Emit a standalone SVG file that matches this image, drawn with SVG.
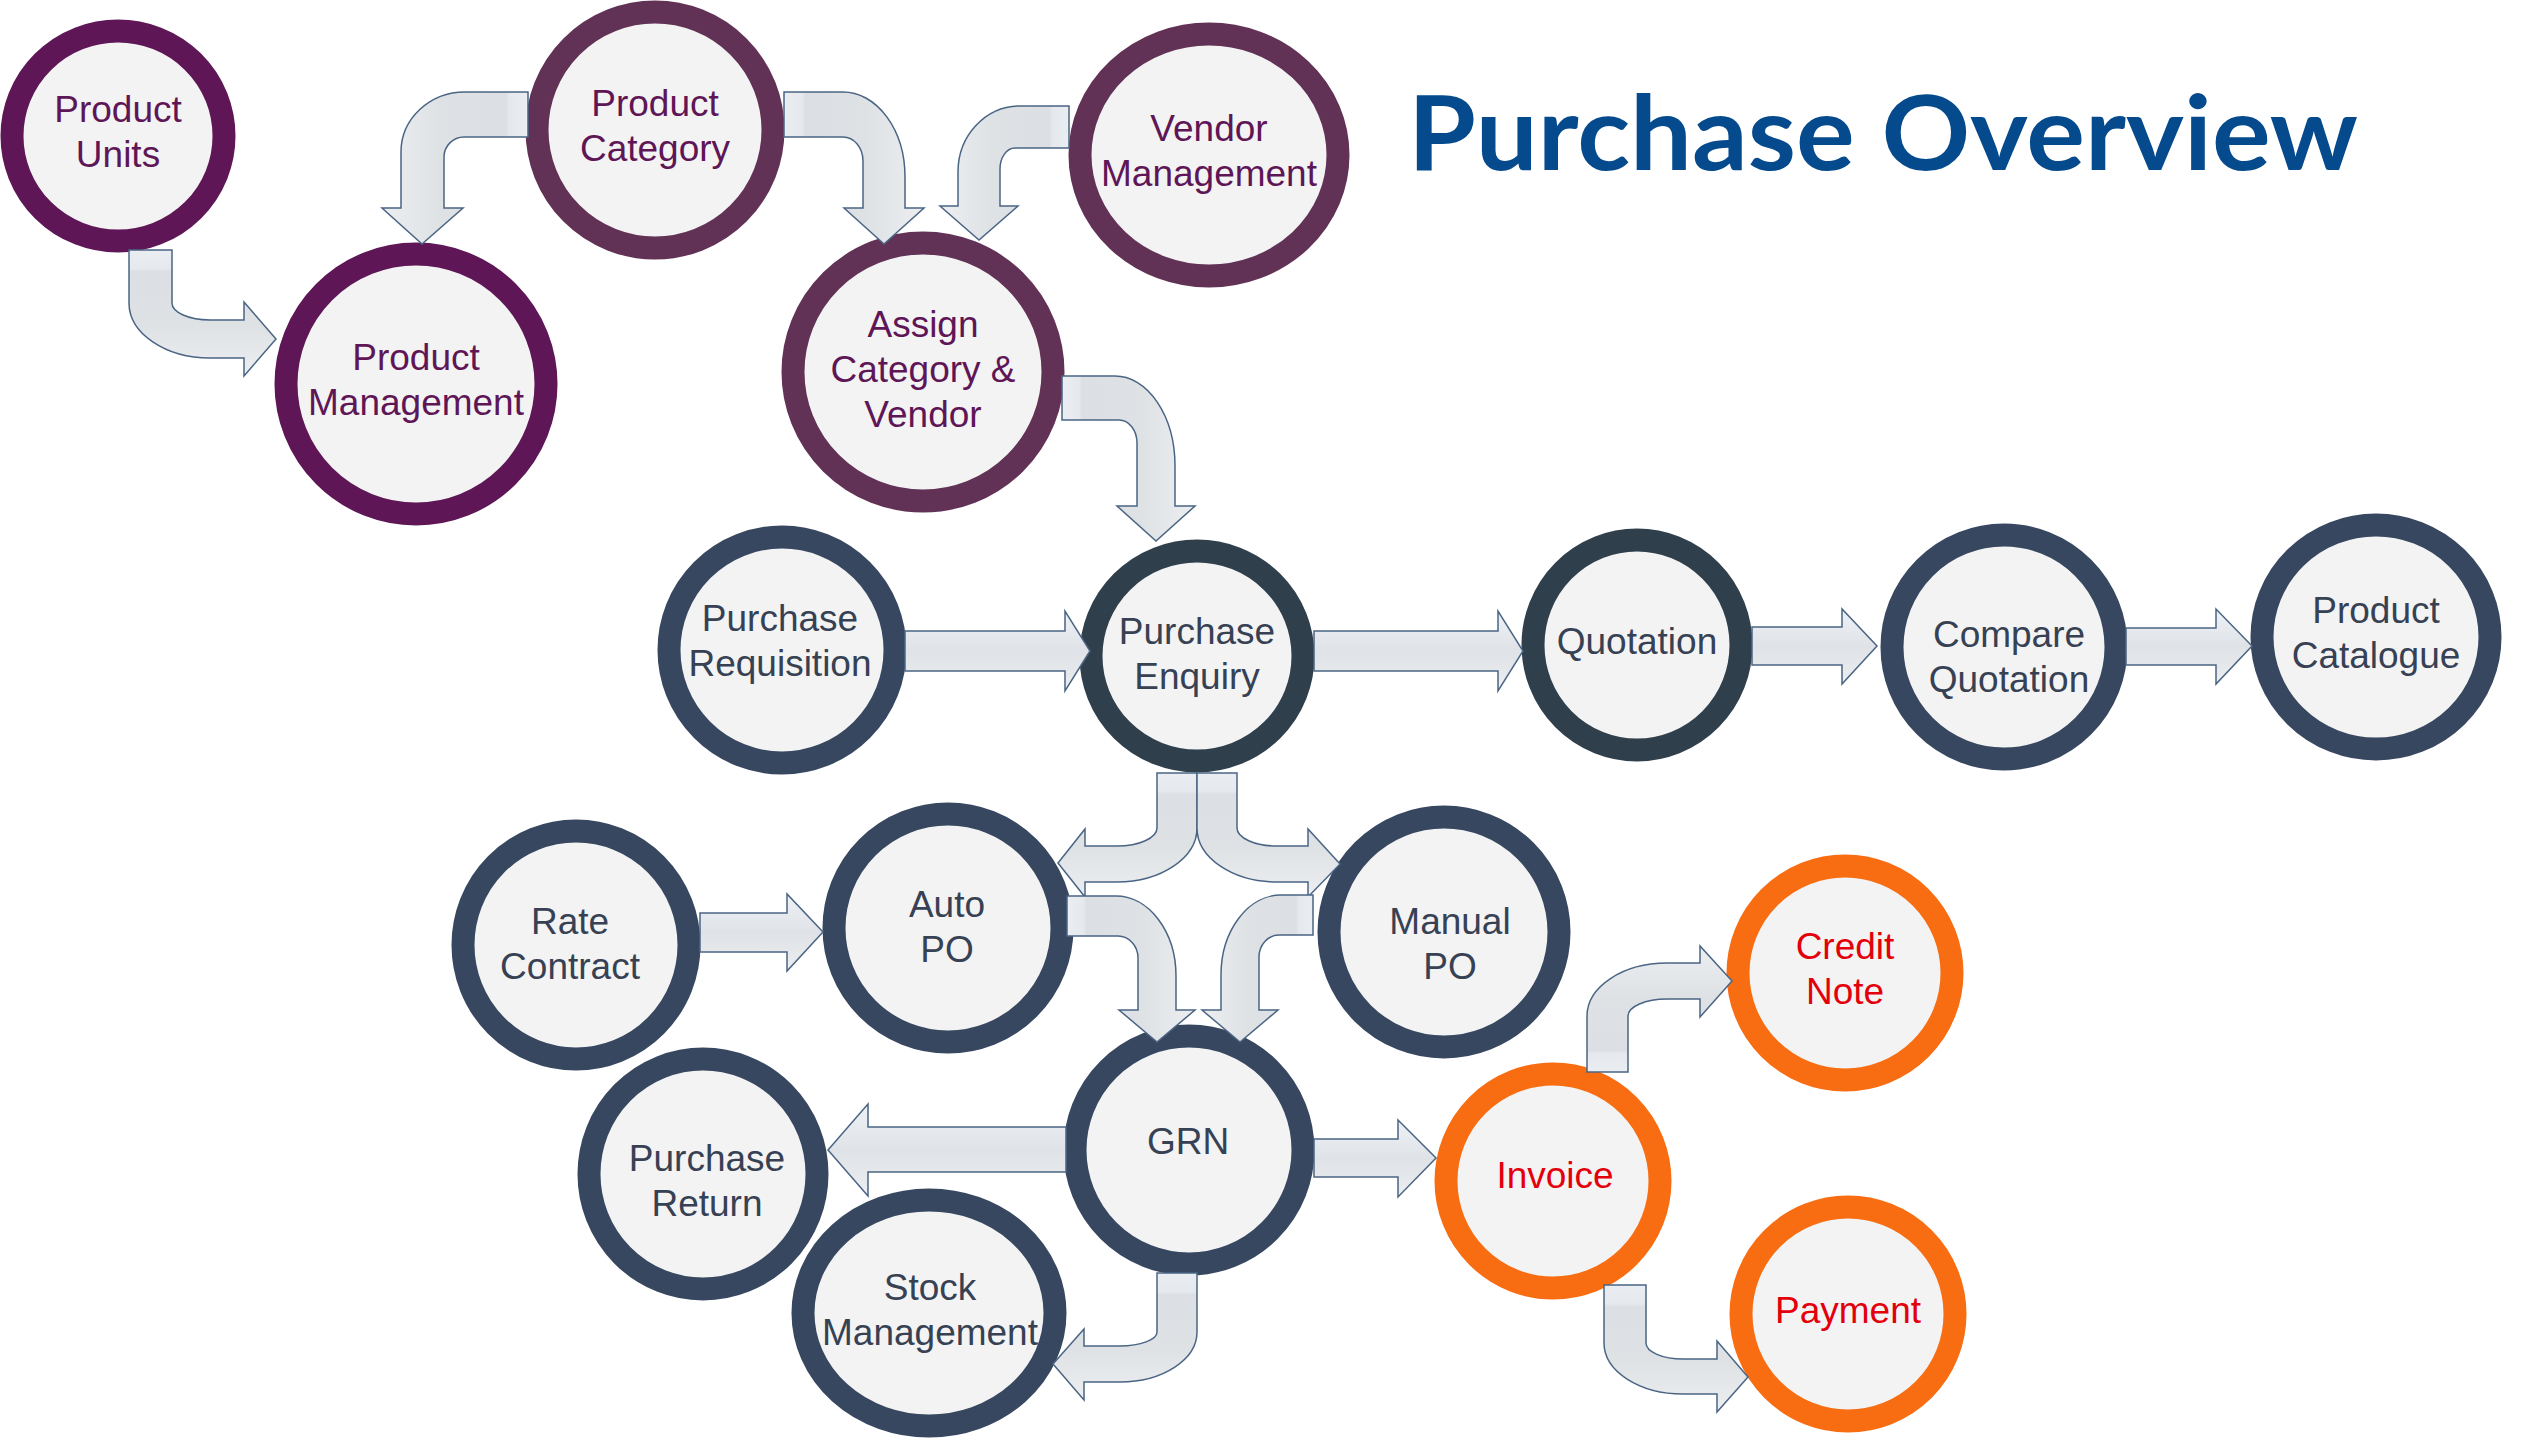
<svg xmlns="http://www.w3.org/2000/svg" width="2528" height="1439" viewBox="0 0 2528 1439">
<defs>
<linearGradient id="ag" x1="0" y1="0" x2="0" y2="1">
<stop offset="0" stop-color="#eef1f5"/>
<stop offset="0.5" stop-color="#dfe2e6"/>
<stop offset="1" stop-color="#eceef1"/>
</linearGradient>
<linearGradient id="gT" x1="0" y1="0" x2="0" y2="1">
<stop offset="0" stop-color="#eaeef3"/>
<stop offset="0.15" stop-color="#e5e9ee"/>
<stop offset="0.17" stop-color="#dcdfe3"/>
<stop offset="0.6" stop-color="#dfe2e5"/>
<stop offset="1" stop-color="#eceef0"/>
</linearGradient>
<linearGradient id="gB" x1="0" y1="1" x2="0" y2="0">
<stop offset="0" stop-color="#eaeef3"/>
<stop offset="0.15" stop-color="#e5e9ee"/>
<stop offset="0.17" stop-color="#dcdfe3"/>
<stop offset="0.6" stop-color="#dfe2e5"/>
<stop offset="1" stop-color="#eceef0"/>
</linearGradient>
<linearGradient id="gL" x1="0" y1="0" x2="1" y2="0">
<stop offset="0" stop-color="#eaeef3"/>
<stop offset="0.13" stop-color="#e5e9ee"/>
<stop offset="0.15" stop-color="#dcdfe3"/>
<stop offset="0.6" stop-color="#dfe2e5"/>
<stop offset="1" stop-color="#eceef0"/>
</linearGradient>
<linearGradient id="gR" x1="1" y1="0" x2="0" y2="0">
<stop offset="0" stop-color="#eaeef3"/>
<stop offset="0.13" stop-color="#e5e9ee"/>
<stop offset="0.15" stop-color="#dcdfe3"/>
<stop offset="0.6" stop-color="#dfe2e5"/>
<stop offset="1" stop-color="#eceef0"/>
</linearGradient>
</defs>
<style>
.n{fill:#f3f3f3;stroke-width:23}
.p1{stroke:#5e1656}
.p2{stroke:#613255}
.s1{stroke:#374760}
.s2{stroke:#2f3f4c}
.o{stroke:#f86d12}
text{font-family:"Liberation Sans",Arial,sans-serif;font-size:37px;text-anchor:middle}
.tp{fill:#5e1656}
.ts{fill:#374154}
.tr{fill:#e3000b}
.a{fill:url(#ag);stroke:#4a6584;stroke-width:1.5;stroke-linejoin:miter}
.t{fill:url(#gT)}
.b{fill:url(#gB)}
.l{fill:url(#gL)}
.r{fill:url(#gR)}
.title{font-family:Lato,"Liberation Sans",sans-serif;font-weight:700;font-size:104px;fill:#054a8c;text-anchor:start}
</style>
<rect width="2528" height="1439" fill="#ffffff"/>
<text class="title" x="1408" y="170" textLength="950" lengthAdjust="spacingAndGlyphs">Purchase Overview</text>

<g id="product-units"><ellipse class="n p1" cx="118" cy="136" rx="106" ry="105"/><text class="tp" x="118" y="122">Product</text><text class="tp" x="118" y="167">Units</text></g>
<g id="product-category"><ellipse class="n p2" cx="655" cy="130" rx="118" ry="118"/><text class="tp" x="655" y="116">Product</text><text class="tp" x="655" y="161">Category</text></g>
<g id="vendor-management"><ellipse class="n p2" cx="1209" cy="155" rx="129" ry="121"/><text class="tp" x="1209" y="141">Vendor</text><text class="tp" x="1209" y="186">Management</text></g>
<g id="product-management"><ellipse class="n p1" cx="416" cy="384" rx="130" ry="130"/><text class="tp" x="416" y="370">Product</text><text class="tp" x="416" y="415">Management</text></g>
<g id="assign-category-vendor"><ellipse class="n p2" cx="923" cy="372" rx="130" ry="129"/><text class="tp" x="923" y="337">Assign</text><text class="tp" x="923" y="382">Category &amp;</text><text class="tp" x="923" y="427">Vendor</text></g>
<g id="purchase-requisition"><ellipse class="n s1" cx="782" cy="650" rx="113" ry="113"/><text class="ts" x="780" y="631">Purchase</text><text class="ts" x="780" y="676">Requisition</text></g>
<g id="purchase-enquiry"><ellipse class="n s2" cx="1197" cy="656" rx="106" ry="105"/><text class="ts" x="1197" y="644">Purchase</text><text class="ts" x="1197" y="689">Enquiry</text></g>
<g id="quotation"><ellipse class="n s2" cx="1637" cy="645" rx="104" ry="105"/><text class="ts" x="1637" y="654">Quotation</text></g>
<g id="compare-quotation"><ellipse class="n s1" cx="2004" cy="647" rx="112" ry="112"/><text class="ts" x="2009" y="647">Compare</text><text class="ts" x="2009" y="692">Quotation</text></g>
<g id="product-catalogue"><ellipse class="n s1" cx="2376" cy="637" rx="114" ry="112"/><text class="ts" x="2376" y="623">Product</text><text class="ts" x="2376" y="668">Catalogue</text></g>
<g id="rate-contract"><ellipse class="n s1" cx="576" cy="945" rx="113" ry="114"/><text class="ts" x="570" y="934">Rate</text><text class="ts" x="570" y="979">Contract</text></g>
<g id="auto-po"><ellipse class="n s1" cx="948" cy="928" rx="114" ry="114"/><text class="ts" x="947" y="917">Auto</text><text class="ts" x="947" y="962">PO</text></g>
<g id="manual-po"><ellipse class="n s1" cx="1444" cy="932" rx="115" ry="115"/><text class="ts" x="1450" y="934">Manual</text><text class="ts" x="1450" y="979">PO</text></g>
<g id="grn"><ellipse class="n s1" cx="1189" cy="1150" rx="114" ry="114"/><text class="ts" x="1188" y="1154">GRN</text></g>
<g id="purchase-return"><ellipse class="n s1" cx="703" cy="1174" rx="114" ry="115"/><text class="ts" x="707" y="1171">Purchase</text><text class="ts" x="707" y="1216">Return</text></g>
<g id="stock-management"><ellipse class="n s1" cx="929" cy="1313" rx="126" ry="113"/><text class="ts" x="930" y="1300">Stock</text><text class="ts" x="930" y="1345">Management</text></g>
<g id="invoice"><ellipse class="n o" cx="1553" cy="1181" rx="107" ry="107"/><text class="tr" x="1555" y="1188">Invoice</text></g>
<g id="credit-note"><ellipse class="n o" cx="1845" cy="973" rx="107" ry="107"/><text class="tr" x="1845" y="959">Credit</text><text class="tr" x="1845" y="1004">Note</text></g>
<g id="payment"><ellipse class="n o" cx="1848" cy="1314" rx="107" ry="107"/><text class="tr" x="1848" y="1323">Payment</text></g>

<g id="connectors">
<path class="a t" d="M129,250 H172 V303 A38,17 0 0 0 210,320 H244 V302 L276,339 L244,376 V358 H210 A81,55 0 0 1 129,303 Z"/>
<path class="a r" d="M528,92 V137 H464 A20,20 0 0 0 444,157 V208 H463 L422,244 L382,208 H401 V152 A64,60 0 0 1 465,92 Z"/>
<path class="a l" d="M784,92 H843 A62,85 0 0 1 905,177 V208 H924 L884,244 L844,208 H863 V161 A20,24 0 0 0 843,137 H784 Z"/>
<path class="a r" d="M1069,106 V148 H1015 A15,21 0 0 0 1000,169 V206 H1018 L979,240 L940,206 H958 V172 A62,66 0 0 1 1020,106 Z"/>
<path class="a l" d="M1062,376 H1115 A60,90 0 0 1 1175,466 V506 H1195 L1156,541 L1117,506 H1137 V443 A18,23 0 0 0 1119,420 H1062 Z"/>
<path class="a" d="M905,631 H1065 V611 L1090,651 L1065,691 V671 H905 Z"/>
<path class="a" d="M1314,631 H1498 V611 L1523,651 L1498,691 V671 H1314 Z"/>
<path class="a" d="M1752,627 H1842 V609 L1877,646 L1842,684 V665 H1752 Z"/>
<path class="a" d="M2126,628 H2216 V609 L2252,646 L2216,684 V665 H2126 Z"/>
<path class="a t" d="M1157,773 H1197 V828 A80,54 0 0 1 1117,882 H1085 V897 L1058,863 L1085,829 V846 H1117 A40,18 0 0 0 1157,828 Z"/>
<path class="a t" d="M1237,773 H1197 V828 A80,54 0 0 0 1277,882 H1308 V897 L1340,864 L1308,829 V846 H1277 A40,18 0 0 1 1237,828 Z"/>
<path class="a" d="M700,913 H787 V894 L823,932 L787,971 V952 H700 Z"/>
<path class="a l" d="M1067,896 H1116 A60,80 0 0 1 1176,976 V1010 H1195 L1157,1042 L1119,1010 H1138 V958 A20,22 0 0 0 1118,936 H1067 Z"/>
<path class="a r" d="M1313,895 V935 H1279 A20,22 0 0 0 1259,957 V1010 H1278 L1240,1042 L1202,1010 H1221 V975 A60,80 0 0 1 1281,895 Z"/>
<path class="a" d="M1066,1127 H868 V1104 L828,1150 L868,1196 V1172 H1066 Z"/>
<path class="a" d="M1314,1139 H1398 V1120 L1436,1158 L1398,1197 V1177 H1314 Z"/>
<path class="a t" d="M1157,1273 H1197 V1332 A77,50 0 0 1 1120,1382 H1084 V1400 L1053,1364 L1084,1329 V1346 H1120 A37,14 0 0 0 1157,1332 Z"/>
<path class="a b" d="M1587,1072 V1016 A80,53 0 0 1 1667,963 H1700 V946 L1732,981 L1700,1017 V999 H1667 A39,17 0 0 0 1628,1016 V1072 Z"/>
<path class="a t" d="M1604,1285 H1646 V1343 A37,16 0 0 0 1683,1359 H1717 V1341 L1748,1377 L1717,1412 V1394 H1683 A79,51 0 0 1 1604,1343 Z"/>
</g>
</svg>
